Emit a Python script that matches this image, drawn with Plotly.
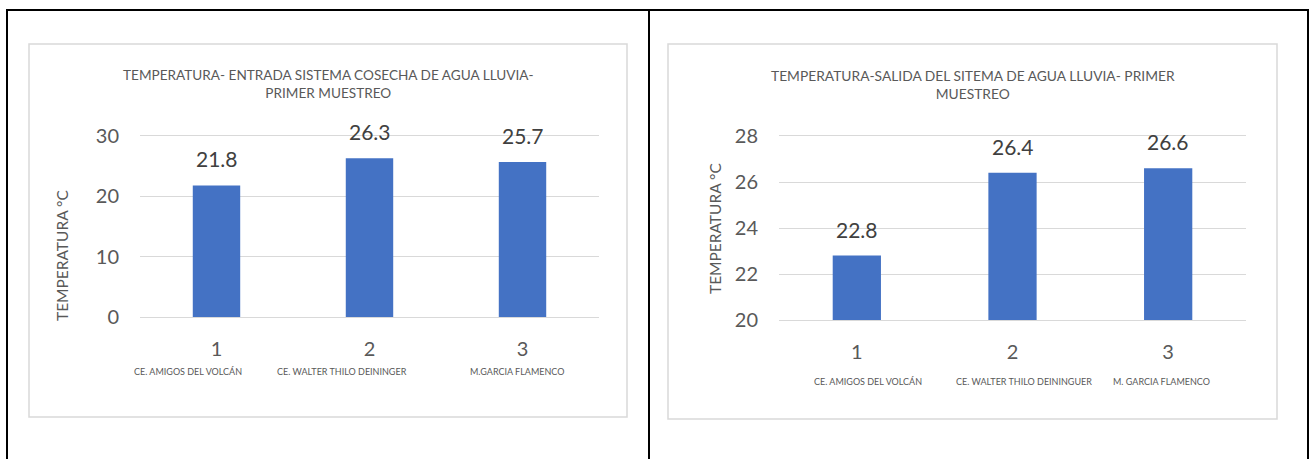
import plotly.graph_objects as go

# ---- data -------------------------------------------------------------
categories = [1, 2, 3]
category_labels = ["1", "2", "3"]
entrada_values = [21.8, 26.3, 25.7]
salida_values = [22.8, 26.4, 26.6]
entrada_sites = ["CE. AMIGOS DEL VOLCÁN", "CE. WALTER THILO DEININGER", "M.GARCIA FLAMENCO"]
salida_sites = ["CE. AMIGOS DEL VOLCÁN", "CE. WALTER THILO DEININGUER", "M. GARCIA FLAMENCO"]
entrada_title = "TEMPERATURA- ENTRADA SISTEMA COSECHA DE AGUA LLUVIA-<br>PRIMER MUESTREO"
salida_title = "TEMPERATURA-SALIDA DEL SITEMA DE AGUA LLUVIA- PRIMER<br>MUESTREO"
y_title = "TEMPERATURA °C"
entrada_ticks = [0, 10, 20, 30]
salida_ticks = [20, 22, 24, 26, 28]

# ---- page geometry (pixels) -------------------------------------------
W, H = 1313, 459
FONT = "Lato, Calibri, Carlito, sans-serif"
GRAY = "#595959"
DARK = "#404040"
GRID = "#D9D9D9"
BAR = "#4472C4"


def fx(x):
    return x / W


def fy(y):
    return 1 - y / H


fig = go.Figure()

fig.add_trace(go.Bar(x=categories, y=entrada_values, width=0.31,
                     marker=dict(color=BAR, line=dict(width=0)),
                     xaxis="x", yaxis="y", showlegend=False, hoverinfo="y"))
fig.add_trace(go.Bar(x=categories, y=salida_values, width=0.31,
                     marker=dict(color=BAR, line=dict(width=0)),
                     xaxis="x2", yaxis="y2", showlegend=False, hoverinfo="y"))

# the x axis line (mirrored) supplies the gridlines at both ends of the value range
xcommon = dict(range=[0.5, 3.5], tickvals=categories, ticktext=category_labels,
               showgrid=False, zeroline=False, showline=True, linecolor=GRID,
               linewidth=1, mirror=True, automargin=False,
               ticks="", tickfont=dict(family=FONT, size=20, color=GRAY),
               ticklabelstandoff=14, fixedrange=True)
ycommon = dict(showgrid=True, gridcolor=GRID, gridwidth=1, zeroline=False,
               showline=False, automargin=False, ticks="",
               tickfont=dict(family=FONT, size=20, color=GRAY),
               ticklabelstandoff=20, fixedrange=True)

fig.update_layout(
    template="none",
    width=W, height=H, autosize=False,
    margin=dict(l=0, r=0, t=0, b=0, pad=0),
    paper_bgcolor="white", plot_bgcolor="white",
    xaxis=dict(xcommon, domain=[fx(140), fx(599)], anchor="y"),
    yaxis=dict(ycommon, domain=[fy(317), fy(136)], range=[0, 30],
               tickvals=entrada_ticks, anchor="x"),
    xaxis2=dict(xcommon, domain=[fx(779), fx(1246)], anchor="y2"),
    yaxis2=dict(ycommon, domain=[fy(320), fy(136)], range=[20, 28],
                tickvals=salida_ticks, anchor="x2"),
)

shapes = []
# table frame lines
black = dict(color="black", width=2)
shapes.append(dict(type="line", xref="paper", yref="paper", x0=fx(6), x1=fx(1309),
                   y0=fy(10), y1=fy(10), line=black))
for xv in (7, 649, 1308):
    shapes.append(dict(type="line", xref="paper", yref="paper", x0=fx(xv), x1=fx(xv),
                       y0=fy(10), y1=fy(H + 2), line=black))
# chart area borders
for (x0, y0, x1, y1) in ((29, 44, 627, 417), (668, 44, 1277, 419)):
    shapes.append(dict(type="rect", xref="paper", yref="paper",
                       x0=fx(x0), x1=fx(x1), y0=fy(y0), y1=fy(y1),
                       line=dict(color=GRID, width=1.5), fillcolor="rgba(0,0,0,0)",
                       layer="below"))
fig.update_layout(shapes=shapes)

ann = []
# chart titles
ann.append(dict(text=entrada_title, xref="paper", yref="paper", x=fx(328), y=fy(84.5),
                xanchor="center", yanchor="middle", showarrow=False,
                font=dict(family=FONT, size=13.6, color=GRAY)))
ann.append(dict(text=salida_title, xref="paper", yref="paper", x=fx(973), y=fy(84.5),
                xanchor="center", yanchor="middle", showarrow=False,
                font=dict(family=FONT, size=13.8, color=GRAY)))
# axis titles
ann.append(dict(text=y_title, xref="paper", yref="paper", x=fx(62), y=fy(256),
                textangle=-90, xanchor="center", yanchor="middle", showarrow=False,
                font=dict(family=FONT, size=15.5, color=GRAY)))
ann.append(dict(text=y_title, xref="paper", yref="paper", x=fx(715), y=fy(229),
                textangle=-90, xanchor="center", yanchor="middle", showarrow=False,
                font=dict(family=FONT, size=15.5, color=GRAY)))
# value labels above bars
for xs, ys, vals in (("x", "y", entrada_values), ("x2", "y2", salida_values)):
    for c, v in zip(categories, vals):
        ann.append(dict(text=f"{v:.1f}", x=c, y=v, xref=xs, yref=ys,
                        xanchor="center", yanchor="bottom", yshift=12, showarrow=False,
                        font=dict(family=FONT, size=21, color=DARK)))
# site names under the category numbers
for xs, names, ypx, shifts in (("x", entrada_sites, 371, (-29, -28, -6)),
                               ("x2", salida_sites, 381, (11, 11, -7))):
    for c, name, dx in zip(categories, names, shifts):
        ann.append(dict(text=name, x=c, xref=xs, y=fy(ypx), yref="paper",
                        xshift=dx, xanchor="center", yanchor="middle", showarrow=False,
                        font=dict(family=FONT, size=9, color=GRAY)))
fig.update_layout(annotations=ann)

fig.write_html("out.html")
